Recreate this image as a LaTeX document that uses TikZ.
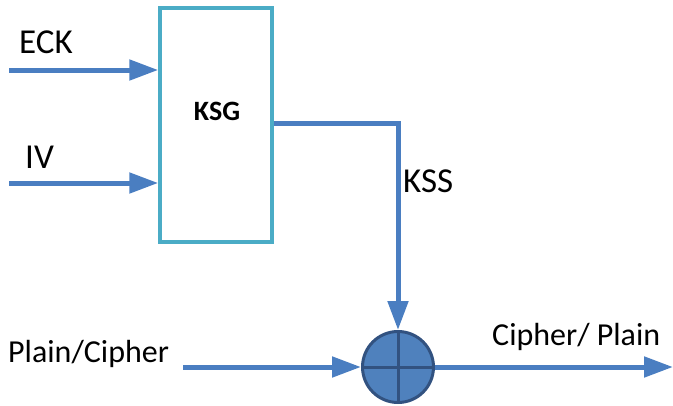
\documentclass[tikz,border=0pt]{standalone}
\usepackage{fontspec}
\setmainfont{Carlito}
\usetikzlibrary{arrows.meta}
\definecolor{flow}{RGB}{74,126,193}
\definecolor{boxedge}{RGB}{75,172,198}
\definecolor{xorfill}{RGB}{79,129,189}
\definecolor{xoredge}{RGB}{50,82,128}
\tikzset{
  flowline/.style={draw=flow, line width=5pt},
  flowarrow/.style={flowline, -{Triangle[length=29pt,width=20pt]}},
  lbl/.style={anchor=base west, inner sep=0pt},
  biglbl/.style={lbl, font=\fontsize{35}{35}\selectfont},
  datalbl/.style={lbl, font=\fontsize{32}{32}\selectfont},
  ksgbox/.style={draw=boxedge, line width=3.5pt, fill=white, minimum width=112pt, minimum height=234pt, inner sep=0pt},
  xorcirc/.style={circle, draw=xoredge, fill=xorfill, line width=3pt, minimum size=71pt, inner sep=0pt},
}
\begin{document}
\begin{tikzpicture}[x=1pt,y=-1pt]
  \useasboundingbox (0,0) rectangle (673,405);
  % key stream generator
  \node[ksgbox] (ksg) at (216,125) {};
  \node[anchor=base, inner sep=0pt, font=\fontsize{28}{28}\selectfont\bfseries] (ksgtext) at (217,120) {KSG};
  % inputs
  \coordinate (eckin) at (9,70);
  \coordinate (ivin) at (9,183);
  \draw[flowarrow] (eckin) -- (eckin -| ksg.west);
  \draw[flowarrow] (ivin) -- (ivin -| ksg.west);
  \node[biglbl] (ecklbl) at (19,53) {ECK};
  \node[biglbl] (ivlbl) at (25,168) {IV};
  % XOR combiner
  \node[xorcirc] (xor) at (398,367) {};
  \draw[xoredge, line width=3pt] (xor.north) -- (xor.south) (xor.west) -- (xor.east);
  % key stream to the combiner
  \coordinate (kssbend) at (398,123);
  \draw[flowarrow] (kssbend -| ksg.east) -- (kssbend) -- (xor.north);
  \node[biglbl] (kss) at (403,192) {KSS};
  % data in and out
  \coordinate (datain) at (183,367);
  \coordinate (dataout) at (673,367);
  \draw[flowarrow] (datain) -- (xor.west);
  \draw[flowarrow] (xor.east) -- (dataout);
  \node[datalbl] (inlbl) at (8,362) {Plain/Cipher};
  \node[datalbl] (outlbl) at (492,345) {Cipher/ Plain};
\end{tikzpicture}
\end{document}
